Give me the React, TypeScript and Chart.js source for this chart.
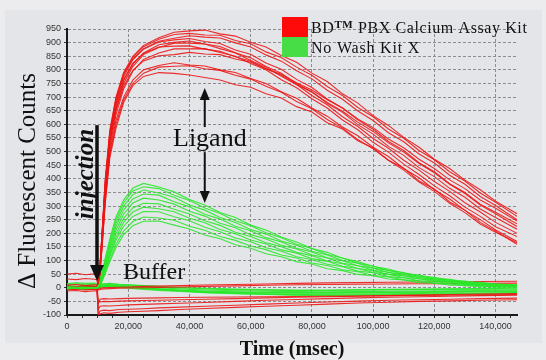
import React, { useEffect, useRef } from 'react';
import { Chart, registerables } from 'chart.js';

Chart.register(...registerables);

// ---------- data ----------
const ligandTimes = [0, 5000, 9800, 10600, 11500, 12500, 14000, 16000, 18500, 21500, 25000, 30000, 35000, 40000, 45000, 50000, 55000, 60000, 65000, 70000, 75000, 80000, 85000, 90000, 95000, 100000, 105000, 110000, 115000, 120000, 125000, 130000, 135000, 140000, 147000];
const bufferTimes = [0, 3000, 6000, 9000, 9800, 10200, 10800, 12000, 14000, 17000, 20000, 25000, 30000, 37000, 45000, 55000, 65000, 75000, 85000, 95000, 105000, 115000, 125000, 135000, 147000];

// BD PBX kit, ligand wells
const redLigandA = [3, -2, 2, 50, 210, 400, 580, 700, 790, 850, 890, 918, 938, 943, 946, 932, 924, 901, 884, 853, 828, 788, 757, 712, 678, 632, 596, 552, 516, 472, 438, 395, 360, 318, 272];
const redLigandB = [-4, 2, -1, 45, 200, 385, 565, 690, 785, 845, 885, 912, 930, 934, 928, 927, 908, 896, 866, 845, 810, 780, 739, 706, 662, 628, 583, 549, 504, 470, 426, 392, 348, 314, 262];
const redLigandC = [6, 1, 4, 40, 190, 370, 550, 680, 775, 838, 878, 905, 916, 925, 920, 917, 899, 884, 855, 832, 797, 767, 725, 692, 649, 614, 569, 536, 491, 458, 413, 380, 335, 302, 250];
const redLigandD = [-8, -3, 0, 48, 205, 390, 570, 695, 785, 838, 876, 902, 910, 915, 904, 897, 873, 857, 825, 802, 765, 735, 693, 660, 617, 582, 537, 504, 459, 426, 382, 350, 307, 277, 235];
const redLigandE = [2, 5, 1, 42, 195, 372, 548, 665, 760, 820, 862, 892, 901, 906, 895, 886, 863, 844, 812, 788, 749, 720, 677, 644, 599, 564, 519, 486, 441, 408, 365, 332, 289, 258, 215];
const redLigandF = [-3, -6, -2, 38, 182, 355, 530, 655, 750, 812, 856, 882, 898, 898, 895, 878, 862, 834, 810, 776, 746, 706, 672, 628, 592, 548, 512, 468, 432, 390, 354, 312, 278, 240, 200];
const redLigandG = [5, 0, 3, 50, 210, 388, 560, 675, 765, 825, 860, 884, 887, 888, 876, 868, 848, 832, 804, 780, 746, 718, 680, 648, 608, 574, 532, 498, 456, 422, 380, 346, 304, 272, 225];
const redLigandH = [-6, -1, -4, 35, 175, 340, 515, 635, 730, 795, 838, 862, 877, 877, 878, 864, 850, 823, 800, 764, 734, 694, 660, 616, 580, 534, 498, 454, 416, 374, 338, 296, 262, 224, 188];
const redLigandI = [1, 3, 0, 40, 188, 360, 535, 650, 740, 798, 833, 852, 856, 864, 858, 856, 840, 828, 804, 784, 753, 726, 690, 660, 620, 588, 546, 514, 472, 438, 396, 364, 322, 292, 245];
const redLigandJ = [-2, -4, 1, 33, 165, 330, 500, 615, 700, 762, 800, 816, 826, 818, 814, 800, 790, 768, 750, 720, 696, 660, 630, 590, 558, 516, 482, 438, 404, 360, 326, 284, 250, 212, 170];
const redLigandK = [4, -1, 2, 32, 160, 320, 490, 600, 690, 750, 788, 810, 813, 815, 804, 798, 780, 766, 740, 718, 684, 657, 618, 586, 544, 510, 468, 432, 388, 354, 310, 276, 234, 204, 165];
const redLigandL = [-5, 0, -3, 30, 152, 310, 478, 585, 680, 742, 776, 790, 787, 781, 772, 763, 745, 736, 712, 697, 665, 645, 606, 583, 540, 513, 468, 439, 392, 363, 315, 285, 240, 208, 160];

// No Wash Kit X, ligand wells
const greenLigandA = [2, -3, 1, 15, 60, 110, 180, 260, 322, 366, 383, 370, 352, 324, 304, 276, 258, 230, 212, 186, 168, 144, 130, 108, 96, 78, 69, 53, 47, 35, 31, 22, 20, 13, 11];
const greenLigandB = [-3, 2, -1, 12, 55, 100, 170, 250, 312, 355, 371, 364, 340, 320, 293, 273, 246, 228, 202, 184, 160, 144, 122, 109, 90, 80, 63, 56, 42, 38, 27, 25, 16, 15, 10];
const greenLigandC = [4, 0, 2, 10, 50, 95, 160, 238, 300, 342, 359, 348, 332, 304, 285, 258, 240, 214, 197, 172, 156, 134, 120, 100, 90, 72, 64, 49, 44, 32, 29, 19, 18, 11, 9];
const greenLigandD = [-1, -4, 0, 8, 45, 88, 150, 225, 285, 326, 344, 340, 316, 297, 270, 252, 226, 209, 184, 168, 145, 131, 110, 99, 81, 72, 56, 50, 37, 33, 23, 21, 13, 12, 8];
const greenLigandE = [3, 1, -2, 9, 42, 82, 140, 212, 270, 311, 329, 322, 307, 281, 263, 237, 220, 195, 179, 156, 142, 121, 109, 90, 81, 64, 57, 43, 39, 27, 25, 16, 15, 8, 7];
const greenLigandF = [-2, 3, 1, 7, 38, 75, 130, 198, 255, 293, 310, 308, 288, 271, 246, 229, 204, 188, 165, 151, 130, 118, 98, 88, 71, 63, 49, 44, 32, 29, 19, 18, 10, 10, 6];
const greenLigandG = [1, -2, -1, 6, 35, 70, 122, 186, 240, 278, 296, 290, 279, 255, 239, 214, 198, 175, 161, 139, 127, 107, 97, 79, 71, 56, 50, 37, 33, 23, 21, 12, 13, 6, 5];
const greenLigandH = [-4, 0, 2, 5, 32, 65, 115, 175, 226, 262, 280, 279, 261, 246, 222, 206, 183, 169, 147, 134, 114, 103, 86, 77, 61, 55, 41, 37, 26, 24, 15, 14, 7, 8, 4];
const greenLigandI = [2, -1, 0, 4, 28, 58, 103, 160, 208, 243, 260, 256, 248, 226, 211, 188, 174, 153, 140, 120, 109, 91, 82, 66, 59, 45, 40, 29, 26, 16, 15, 7, 8, 2, 3];
const greenLigandJ = [-1, 2, -2, 3, 25, 52, 95, 148, 195, 228, 244, 245, 230, 216, 194, 180, 158, 145, 125, 114, 96, 87, 70, 63, 49, 44, 32, 29, 19, 18, 9, 10, 3, 5, 2];

// Buffer wells
const greenBufferA = [8, 5, 9, 6, 4, 3, 8, 11, 12, 9, 7, 4, 0, -4, -8, -11, -13, -14, -15, -14, -13, -12, -11, -10, -9];
const greenBufferB = [2, 4, 0, 3, 1, 0, 4, 7, 7, 5, 3, 0, -4, -8, -12, -15, -17, -18, -18, -17, -16, -15, -14, -13, -12];
const greenBufferC = [-3, -1, -4, -2, -3, -2, 2, 5, 5, 3, 1, -3, -6, -10, -14, -17, -19, -20, -20, -19, -18, -17, -16, -15, -14];
const greenBufferD = [12, 14, 11, 13, 10, 8, 12, 14, 14, 12, 10, 7, 4, 0, -4, -7, -9, -10, -10, -9, -8, -7, -6, -5, -5];
const greenBufferE = [5, 3, 6, 4, 2, 1, 6, 9, 9, 6, 3, -1, -5, -10, -15, -19, -22, -24, -24, -23, -22, -21, -20, -19, -18];
const greenBufferF = [-6, -4, -7, -5, -6, -4, 0, 3, 3, 1, -2, -6, -10, -14, -18, -22, -25, -26, -27, -26, -25, -24, -22, -21, -20];
const greenBufferG = [15, 18, 16, 17, 14, 10, 13, 15, 16, 13, 11, 8, 5, 1, -2, -5, -7, -8, -8, -7, -6, -5, -4, -3, -2];
const greenBufferH = [0, 2, -2, 1, -1, 0, 5, 8, 8, 5, 2, -2, -7, -12, -17, -21, -24, -27, -28, -28, -27, -26, -25, -24, -22];

const redBufferA = [50, 53, 48, 51, 47, 5, -2, 0, 1, 2, 3, 5, 6, 8, 10, 12, 14, 16, 18, 19, 20, 21, 22, 23, 24];
const redBufferB = [32, 30, 34, 31, 29, -8, -6, -4, -3, -2, -1, 0, 1, 3, 5, 7, 9, 11, 12, 13, 14, 15, 15, 16, 17];
const redBufferC = [2, -1, 3, 0, -2, -60, -42, -40, -41, -40, -39, -38, -37, -36, -35, -34, -33, -32, -31, -30, -29, -28, -27, -26, -25];
const redBufferD = [-6, -4, -8, -5, -7, -100, -85, -82, -84, -80, -79, -77, -74, -71, -68, -64, -60, -56, -52, -49, -46, -44, -42, -40, -38];
const redBufferE = [6, 4, 8, 5, 3, -100, -96, -92, -94, -90, -88, -86, -84, -80, -76, -72, -68, -64, -60, -56, -53, -50, -48, -46, -44];
const redBufferF = [-12, -10, -14, -11, -13, -80, -68, -66, -67, -65, -63, -61, -59, -57, -54, -50, -46, -43, -40, -37, -35, -33, -31, -29, -27];
const redBufferG = [10, 12, 8, 11, 9, -45, -52, -50, -51, -49, -48, -47, -46, -44, -42, -40, -37, -35, -33, -31, -29, -27, -25, -23, -21];

const redLigandSeries = [redLigandA, redLigandB, redLigandC, redLigandD, redLigandE, redLigandF, redLigandG, redLigandH, redLigandI, redLigandJ, redLigandK, redLigandL];
const greenLigandSeries = [greenLigandA, greenLigandB, greenLigandC, greenLigandD, greenLigandE, greenLigandF, greenLigandG, greenLigandH, greenLigandI, greenLigandJ];
const greenBufferSeries = [greenBufferA, greenBufferB, greenBufferC, greenBufferD, greenBufferE, greenBufferF, greenBufferG, greenBufferH];
const redBufferSeries = [redBufferA, redBufferB, redBufferC, redBufferD, redBufferE, redBufferF, redBufferG];

const xLabelValues = [0, 20000, 40000, 60000, 80000, 100000, 120000, 140000];
const xMinorStep = 5000;
const xTitle = 'Time (msec)';
const yTitle = 'Δ Fluorescent Counts';
const legendRedParts = ['BD', 'TM', ' PBX Calcium Assay Kit'];
const legendGreenLabel = 'No Wash Kit X';
const injectionLabel = 'injection';
const ligandLabel = 'Ligand';
const bufferLabel = 'Buffer';

// annotation anchors in data units
const injectionTime = 9800;
const injectionArrowFrom = 597;
const injectionArrowTo = 25;
const ligandArrowTime = 45000;
const ligandUpFrom = 590;
const ligandUpTo = 733;
const ligandDownFrom = 498;
const ligandDownTo = 311;

// ---------- styles ----------
const RED = 'rgba(236, 22, 22, 0.9)';
const GREEN = 'rgba(40, 232, 40, 0.9)';
const SERIF = '"Liberation Serif", "Times New Roman", serif';
const SANS = '"Liberation Sans", Arial, sans-serif';

function toPoints(times: number[], vals: number[]) {
  return vals.map((v, i) => ({ x: times[i], y: v }));
}

function drawArrow(ctx: CanvasRenderingContext2D, x: number, y1: number, y2: number, shaftW: number, headW: number, headLen: number) {
  const sign = y2 > y1 ? 1 : -1;
  ctx.lineWidth = shaftW;
  ctx.beginPath();
  ctx.moveTo(x, y1);
  ctx.lineTo(x, y2 - sign * headLen + sign);
  ctx.stroke();
  ctx.beginPath();
  ctx.moveTo(x - headW / 2, y2 - sign * headLen);
  ctx.lineTo(x + headW / 2, y2 - sign * headLen);
  ctx.lineTo(x, y2);
  ctx.closePath();
  ctx.fill();
}

const decorPlugin = {
  id: 'decor',
  beforeDraw(chart: any) {
    const { ctx, width, height } = chart;
    ctx.save();
    ctx.fillStyle = '#ececee';
    ctx.fillRect(0, 0, width, height);
    ctx.fillStyle = '#e4e5e9';
    ctx.fillRect(5, 10, 537, 333);
    ctx.restore();
  },
  afterDraw(chart: any) {
    const { ctx } = chart;
    const xs = chart.scales.x;
    const ys = chart.scales.y;
    ctx.save();
    ctx.fillStyle = '#111';
    ctx.strokeStyle = '#111';

    // y axis title
    ctx.save();
    ctx.translate(35, 181);
    ctx.rotate(-Math.PI / 2);
    ctx.font = `25px ${SERIF}`;
    ctx.textAlign = 'center';
    ctx.textBaseline = 'alphabetic';
    ctx.fillText(yTitle, 0, 0);
    ctx.restore();

    // injection label + arrow
    ctx.save();
    ctx.translate(93, 174);
    ctx.rotate(-Math.PI / 2);
    ctx.font = `italic bold 25px ${SERIF}`;
    ctx.textAlign = 'center';
    ctx.textBaseline = 'alphabetic';
    ctx.fillText(injectionLabel, 0, 0);
    ctx.restore();
    const ix = xs.getPixelForValue(injectionTime);
    drawArrow(ctx, ix, ys.getPixelForValue(injectionArrowFrom), ys.getPixelForValue(injectionArrowTo), 3.5, 14, 16);

    // ligand label + arrows
    ctx.font = `26px ${SERIF}`;
    ctx.textAlign = 'left';
    ctx.textBaseline = 'alphabetic';
    ctx.fillText(ligandLabel, 173, 146);
    const lx = xs.getPixelForValue(ligandArrowTime);
    drawArrow(ctx, lx, ys.getPixelForValue(ligandUpFrom), ys.getPixelForValue(ligandUpTo), 2, 10, 12);
    drawArrow(ctx, lx, ys.getPixelForValue(ligandDownFrom), ys.getPixelForValue(ligandDownTo), 2, 10, 12);

    // buffer label
    ctx.font = `24px ${SERIF}`;
    ctx.fillText(bufferLabel, 123, 279);

    // legend
    ctx.fillStyle = '#ff0a0a';
    ctx.fillRect(282, 17, 26, 20);
    ctx.fillStyle = '#46dd46';
    ctx.fillRect(282, 37, 26, 20);
    ctx.fillStyle = '#111';
    (ctx as any).letterSpacing = '0.6px';
    ctx.font = `16px ${SERIF}`;
    let tx = 311;
    ctx.fillText(legendRedParts[0], tx, 33);
    tx += ctx.measureText(legendRedParts[0]).width;
    ctx.font = `bold 11px ${SERIF}`;
    ctx.fillText(legendRedParts[1], tx, 28);
    tx += ctx.measureText(legendRedParts[1]).width;
    ctx.font = `16px ${SERIF}`;
    ctx.fillText(legendRedParts[2], tx, 33);
    (ctx as any).letterSpacing = '0.8px';
    ctx.fillText(legendGreenLabel, 311, 53);
    (ctx as any).letterSpacing = '0px';
    ctx.restore();
  },
};

export default function App() {
  const canvasRef = useRef<HTMLCanvasElement | null>(null);

  useEffect(() => {
    const canvas = canvasRef.current;
    if (!canvas) return;

    const mk = (times: number[], vals: number[], color: string) => ({
      data: toPoints(times, vals),
      borderColor: color,
      borderWidth: 1.1,
      pointRadius: 0,
      tension: 0,
      fill: false,
    });

    const datasets = [
      ...greenLigandSeries.map((s) => mk(ligandTimes, s, GREEN)),
      ...redLigandSeries.map((s) => mk(ligandTimes, s, RED)),
      ...redBufferSeries.map((s) => mk(bufferTimes, s, RED)),
      ...greenBufferSeries.map((s) => mk(bufferTimes, s, GREEN)),
    ];

    const chart = new Chart(canvas, {
      type: 'line',
      data: { datasets } as any,
      plugins: [decorPlugin],
      options: {
        responsive: false,
        animation: false,
        devicePixelRatio: 1,
        layout: { padding: { top: 29, right: 29, left: 0, bottom: 0 } },
        plugins: { legend: { display: false }, tooltip: { enabled: false } },
        scales: {
          x: {
            type: 'linear',
            min: 0,
            max: 147000,
            afterFit: (s: any) => { s.height = 45; },
            afterBuildTicks: (s: any) => {
              const ticks = [];
              for (let v = s.min; v <= s.max; v += xMinorStep) ticks.push({ value: v });
              s.ticks = ticks;
            },
            ticks: {
              autoSkip: false,
              maxRotation: 0,
              minRotation: 0,
              padding: 3,
              color: '#333',
              font: { family: SANS, size: 9 },
              callback: (v: any) => (xLabelValues.includes(Number(v)) ? Number(v).toLocaleString('en-US') : ''),
            },
            grid: {
              color: (c: any) => (c.tick && xLabelValues.includes(c.tick.value) ? '#8c8c8c' : 'rgba(0,0,0,0)'),
              lineWidth: 1,
              tickColor: '#333',
              tickLength: 3,
              tickWidth: 1,
            },
            border: { display: true, color: '#1a1a1a', width: 2, dash: [3, 2] },
            title: {
              display: true,
              text: xTitle,
              color: '#111',
              font: { family: SERIF, size: 20, weight: 'bold', lineHeight: 1 },
              padding: 0,
            },
          },
          y: {
            type: 'linear',
            min: -100,
            max: 950,
            afterFit: (s: any) => { s.width = 67; },
            ticks: {
              stepSize: 50,
              maxTicksLimit: 40,
              autoSkip: false,
              padding: 3,
              color: '#333',
              font: { family: SANS, size: 9 },
            },
            grid: {
              color: '#8c8c8c',
              lineWidth: 1,
              tickColor: '#333',
              tickLength: 3,
              tickWidth: 1,
            },
            border: { display: true, color: '#1a1a1a', width: 2, dash: [3, 2] },
          },
        },
      } as any,
    });

    return () => chart.destroy();
  }, []);

  return (
    <div style={{ position: 'absolute', left: 0, top: 0, width: 546, height: 360 }}>
      <canvas ref={canvasRef} width={546} height={360} style={{ display: 'block', width: 546, height: 360 }} />
    </div>
  );
}
